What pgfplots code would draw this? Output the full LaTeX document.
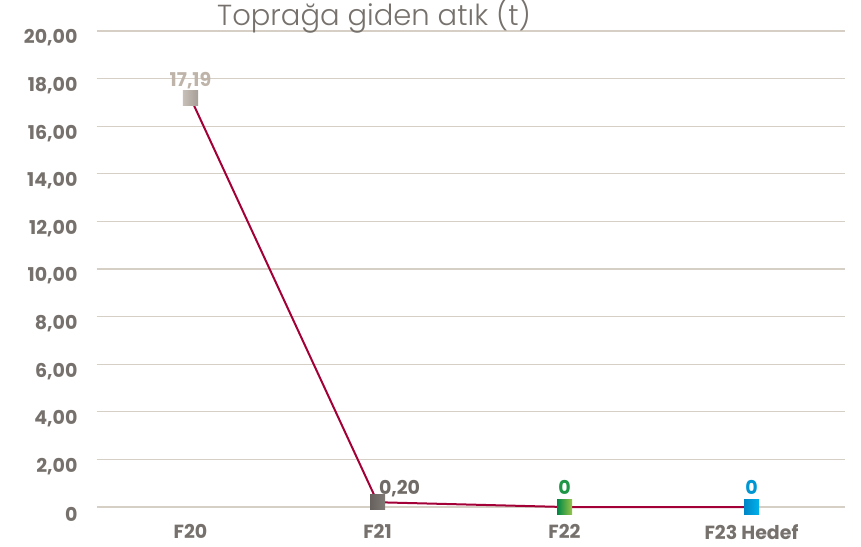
\documentclass[border=0pt]{standalone}
\usepackage{fontspec}
\setmainfont{Poppins}
\newfontfamily\titlefont{Poppins Light}
\usepackage{pgfplots}
\pgfplotsset{compat=1.18}
\definecolor{tickgray}{RGB}{118,113,108}
\definecolor{gridc}{RGB}{214,207,197}
\definecolor{linec}{RGB}{163,0,55}
\pgfdeclarehorizontalshading{shA}{100bp}{rgb(0bp)=(0.78,0.75,0.72); rgb(25bp)=(0.78,0.75,0.72); rgb(75bp)=(0.65,0.62,0.59); rgb(100bp)=(0.65,0.62,0.59)}
\pgfdeclarehorizontalshading{shB}{100bp}{rgb(0bp)=(0.40,0.38,0.36); rgb(25bp)=(0.40,0.38,0.36); rgb(75bp)=(0.50,0.48,0.46); rgb(100bp)=(0.50,0.48,0.46)}
\pgfdeclarehorizontalshading{shC}{100bp}{rgb(0bp)=(0.0,0.53,0.27); rgb(25bp)=(0.0,0.53,0.27); rgb(75bp)=(0.60,0.77,0.28); rgb(100bp)=(0.60,0.77,0.28)}
\pgfdeclarehorizontalshading{shD}{100bp}{rgb(0bp)=(0.0,0.52,0.78); rgb(25bp)=(0.0,0.52,0.78); rgb(75bp)=(0.0,0.70,0.92); rgb(100bp)=(0.0,0.70,0.92)}
\pgfdeclareplotmark{sqA}{\pgfpathrectangle{\pgfpoint{-7.5pt}{-7.5pt}}{\pgfpoint{15pt}{15pt}}\pgfshadepath{shA}{0}\pgfusepath{discard}}
\pgfdeclareplotmark{sqB}{\pgfpathrectangle{\pgfpoint{-7.5pt}{-7.5pt}}{\pgfpoint{15pt}{15pt}}\pgfshadepath{shB}{0}\pgfusepath{discard}}
\pgfdeclareplotmark{sqC}{\pgfpathrectangle{\pgfpoint{-7.5pt}{-7.5pt}}{\pgfpoint{15pt}{15pt}}\pgfshadepath{shC}{0}\pgfusepath{discard}}
\pgfdeclareplotmark{sqD}{\pgfpathrectangle{\pgfpoint{-7.5pt}{-7.5pt}}{\pgfpoint{15pt}{15pt}}\pgfshadepath{shD}{0}\pgfusepath{discard}}
\begin{document}
\begin{tikzpicture}[x=1pt,y=1pt]
\path[use as bounding box] (-97,-39) rectangle (764,507);
\begin{axis}[
  at={(0,0)}, anchor=south west,
  scale only axis, width=748pt, height=476pt,
  xmin=-0.5, xmax=3.5, ymin=0, ymax=20,
  axis line style={draw=none},
  ymajorgrids, grid style={gridc, line width=1.3pt},
  ytick={0,2,...,20},
  yticklabels={0,{2,00},{4,00},{6,00},{8,00},{10,00},{12,00},{14,00},{16,00},{18,00},{20,00}},
  yticklabel style={font=\fontsize{19}{19}\selectfont\bfseries, text=tickgray, anchor=east, xshift=-16pt, yshift=-7pt},
  xtick={0,1,2,3},
  xticklabels={F20,F21,F22,F23 Hedef},
  xticklabel style={font=\fontsize{19}{19}\selectfont\bfseries, text=tickgray, yshift=-14pt},
  major tick length=0pt,
  tick style={draw=none},
  clip=false,
]
\addplot[linec, line width=2pt, mark=none] coordinates {(0,17.19) (1,0.20) (2,0) (3,0)};
\addplot[only marks, mark=sqA, mark options={draw=none},
  nodes near coords={17,19}, every node near coord/.style={font=\fontsize{19}{19}\selectfont\bfseries, text={rgb,255:red,190;green,180;blue,170}, anchor=south, yshift=5pt}]
  coordinates {(0,17.19)};
\addplot[only marks, mark=sqB, mark options={draw=none},
  nodes near coords={0,20}, every node near coord/.style={font=\fontsize{19}{19}\selectfont\bfseries, text={rgb,255:red,112;green,107;blue,102}, anchor=south west, xshift=-2pt, yshift=2pt}]
  coordinates {(1,0.20)};
\addplot[only marks, mark=sqC, mark options={draw=none},
  nodes near coords={0}, every node near coord/.style={font=\fontsize{19}{19}\selectfont\bfseries, text={rgb,255:red,30;green,150;blue,70}, anchor=south, yshift=9pt}]
  coordinates {(2,0)};
\addplot[only marks, mark=sqD, mark options={draw=none},
  nodes near coords={0}, every node near coord/.style={font=\fontsize{19}{19}\selectfont\bfseries, text={rgb,255:red,0;green,150;blue,210}, anchor=south, yshift=9pt}]
  coordinates {(3,0)};
\end{axis}
\node[anchor=base, text=tickgray, font=\titlefont\fontsize{29}{29}\selectfont, inner sep=0pt] at (277,481) {Toprağa giden atık (t)};
\end{tikzpicture}
\end{document}
